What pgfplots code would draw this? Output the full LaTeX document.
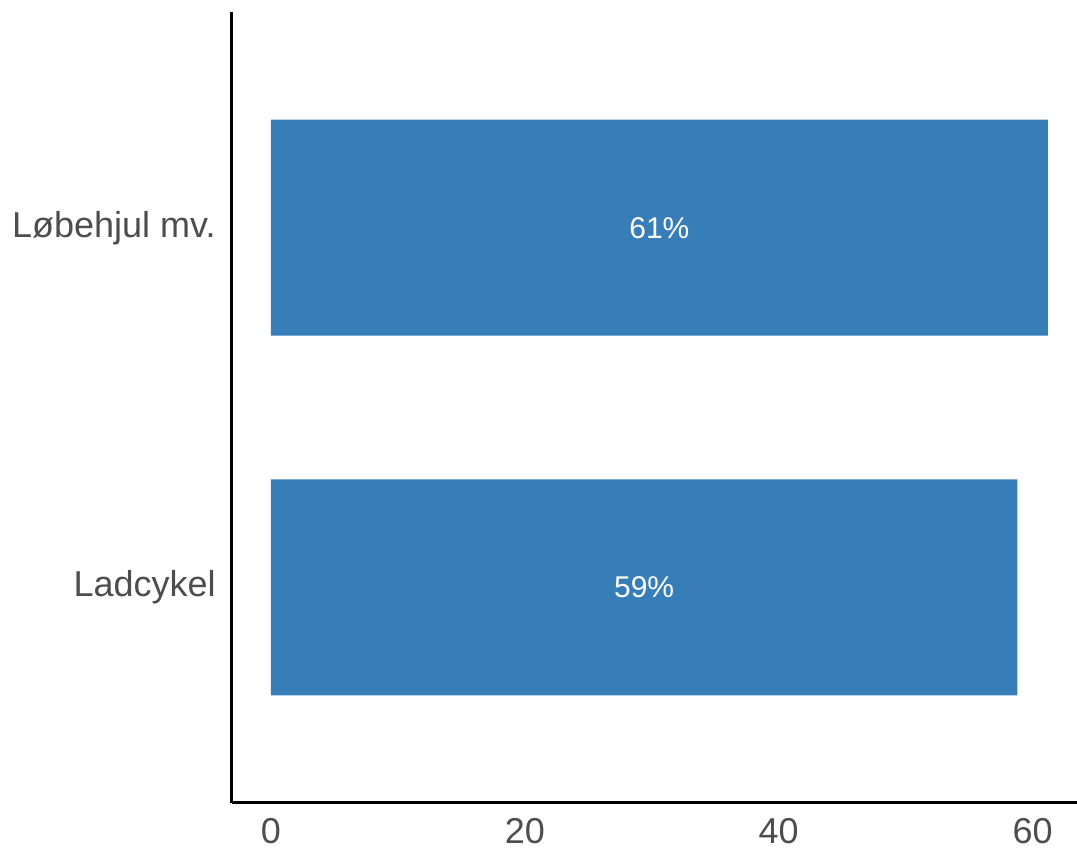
\documentclass[border=0pt]{standalone}
\usepackage{pgfplots}
\pgfplotsset{compat=1.18}
\usepackage{pgfplotstable}
\usepackage{fontspec}
\setmainfont{Liberation Sans}
\definecolor{barblue}{HTML}{377EB8}
\definecolor{ticktxt}{HTML}{4D4D4D}
\pgfplotstableread{
y v
1 58.8
2 61.2
}\data
\begin{document}
\begin{tikzpicture}
\begin{axis}[
  scale only axis,
  width=422.5pt, height=395.5pt,
  xmin=-3.07, xmax=63.5,
  ymin=0.4, ymax=2.6,
  axis lines*=left,
  axis line style={line width=1.5pt, black},
  major tick length=0pt,
  xtick={0,20,40,60},
  ytick={1,2},
  yticklabels={Ladcykel, Løbehjul mv.},
  tick label style={font=\fontsize{18}{21}\selectfont, text=ticktxt},
  /pgf/number format/assume math mode=true,
  xticklabel style={anchor=north, inner sep=0pt, yshift=-7.5pt},
  yticklabel style={anchor=east, inner sep=0pt, xshift=-8pt},
  clip=false,
]
\addplot[xbar, fill=barblue, draw=none, bar width=108pt, bar shift=0pt]
  table[x=v, y=y] {\data};
\addplot[draw=none, mark=none, point meta=explicit,
  nodes near coords={\pgfmathprintnumber[fixed,precision=0]{\pgfplotspointmeta}\%},
  every node near coord/.append style={anchor=center, text=white, inner sep=0pt,
    font=\fontsize{15}{18}\selectfont}]
  table[x expr=\thisrow{v}/2, y=y, meta=v] {\data};
\end{axis}
\pgfresetboundingbox
\path ([xshift=-116pt,yshift=6pt]current axis.north west) rectangle ([yshift=-23pt]current axis.south east);
\end{tikzpicture}
\end{document}
